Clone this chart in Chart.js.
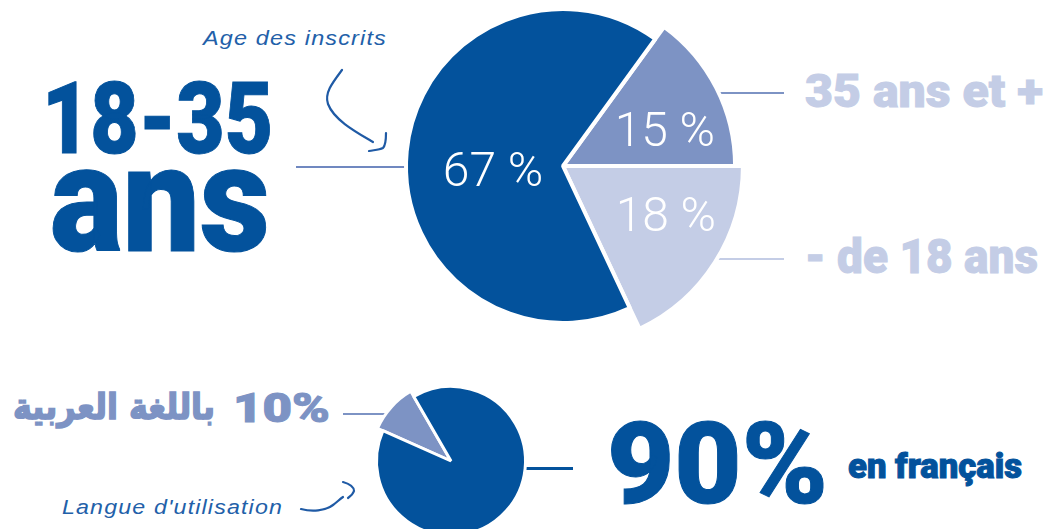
<!DOCTYPE html>
<html lang="fr">
<head>
<meta charset="utf-8">
<title>Inscrits : âge et langue</title>
<script src="https://cdn.jsdelivr.net/npm/chart.js@4.4.1/dist/chart.umd.min.js"></script>
<style>
  html, body { margin: 0; padding: 0; background: #fff; }
  body { position: relative; width: 1046px; height: 529px; overflow: hidden; font-family: Roboto, "DejaVu Sans", sans-serif; }
  .txt { position: absolute; white-space: nowrap; line-height: 1; transform-origin: 0 0; }
  .big { font-weight: 900; -webkit-text-stroke: 1px currentColor; }
  .hand { font-family: "Liberation Sans", sans-serif; font-style: italic; font-size: 20px; color: #2260a9; letter-spacing: 1px; }
  .rule { position: absolute; z-index: 0; }
  canvas { position: absolute; z-index: 1; }
  svg { position: absolute; left: 0; top: 0; z-index: 2; }
</style>
</head>
<body>

<!-- connector rules, drawn under the pies -->
<div class="rule" style="left:296px; top:166px; width:120px; height:2px; background:#7088c0"></div>
<div class="rule" style="left:700px; top:92px;  width:84px;  height:2px; background:#7d93c4"></div>
<div class="rule" style="left:700px; top:258px; width:84px;  height:2px; background:#c4cde6"></div>
<div class="rule" style="left:343px; top:413px; width:50px;  height:2px; background:#7d93c4"></div>
<div class="rule" style="left:500px; top:467px; width:73px;  height:3px; background:#03529c"></div>

<canvas id="agePie" width="420" height="420" style="left:353px; top:-44px"></canvas>
<canvas id="langPie" width="200" height="200" style="left:351px; top:361px"></canvas>

<div id="ageMainNum" class="txt big" data-w="231" style="left:42px; top:69px; font-size:100px; color:#03529c"></div>
<div id="ageMainUnit" class="txt big" data-w="220" style="left:50px; top:124px; font-size:151px; color:#03529c"></div>
<div id="ageOld" class="txt big" data-w="238" style="left:805px; top:67px; font-size:47px; color:#c4cde6"></div>
<div id="ageYoung" class="txt big" data-w="233" style="left:805px; top:232px; font-size:49px; color:#c4cde6"></div>

<div id="langArPct" class="txt big" data-w="97" style="left:233px; top:388px; font-size:41px; color:#7d93c4"></div>
<div id="langArName" class="txt" data-w="202" style="left:13px; top:389px; font-family:'DejaVu Sans'; font-weight:700; font-size:36px; color:#7d93c4; -webkit-text-stroke:1.6px #7d93c4" dir="rtl"></div>
<div id="langFrPct" class="txt big" data-w="221" style="left:607px; top:407px; font-size:114px; color:#03529c"></div>
<div id="langFrName" class="txt big" data-w="174" style="left:848px; top:449px; font-size:35px; color:#03529c"></div>

<div class="txt hand" data-w="184" style="left:203px; top:28px">Age des inscrits</div>
<div class="txt hand" data-w="221" style="left:62px; top:497px">Langue d'utilisation</div>

<!-- hand-drawn pointers -->
<svg width="1046" height="529" fill="none" stroke="#1f5aa5" stroke-width="2.2" stroke-linecap="round" stroke-linejoin="round">
  <path d="M342,70 C333,82 324,93 328,104 C334,120 356,132 373,142"/>
  <path d="M386,133 C386,140 385,146 383,148 C379,150 374,150 369,151"/>
  <path d="M301,509 C312,512 325,511 333,505 C337,502 340,499 343,497"/>
  <path d="M343,482 C350,484 354,487 354,491 C353,494 351,496 348,498"/>
</svg>

<script>
// age of registered users
const ageLabels = ['35 ans et +', '- de 18 ans', '18-35 ans'];
const ageValues = [15, 18, 67];

// language used
const langLabels = ['باللغة العربية', 'en français'];
const langValues = [10, 90];

const DARK = '#03529c';
const MID = '#7d93c4';
const LIGHT = '#c4cde6';

// pie whose slices can stick out further than the others
class ExplodedPieController extends Chart.PieController {
  updateElement(element, index, properties, mode) {
    const grow = this.getDataset().grow;
    if (grow && properties && properties.outerRadius !== undefined && index !== undefined) {
      properties.outerRadius *= grow[index] || 1;
    }
    super.updateElement(element, index, properties, mode);
  }
}
ExplodedPieController.id = 'explodedPie';
Chart.register(ExplodedPieController);

// white value labels inside the slices
const sliceLabels = {
  id: 'sliceLabels',
  afterDatasetsDraw(chart, args, opts) {
    if (!opts.place) return;
    const ctx = chart.ctx;
    const meta = chart.getDatasetMeta(0);
    const values = chart.data.datasets[0].data;
    ctx.save();
    ctx.fillStyle = '#fff';
    ctx.font = `300 ${opts.size}px Roboto, sans-serif`;
    ctx.textAlign = 'center';
    ctx.textBaseline = 'alphabetic';
    meta.data.forEach((arc, i) => {
      const p = opts.place[i];
      if (!p) return;
      const { x, y, startAngle, endAngle, outerRadius } =
        arc.getProps(['x', 'y', 'startAngle', 'endAngle', 'outerRadius'], true);
      const a = startAngle + p.t * (endAngle - startAngle);
      const r = p.r * outerRadius;
      ctx.fillText(values[i] + ' %', x + Math.cos(a) * r, y + Math.sin(a) * r + opts.size * 0.355);
    });
    ctx.restore();
  }
};

const common = {
  responsive: false,
  animation: false,
  events: [],
  layout: { padding: 0 },
  plugins: { legend: { display: false }, tooltip: { enabled: false } }
};

new Chart(document.getElementById('agePie'), {
  type: 'explodedPie',
  data: {
    labels: ageLabels,
    datasets: [{
      data: ageValues,
      backgroundColor: [MID, LIGHT, DARK],
      borderColor: '#fff',
      borderWidth: 4,
      grow: [1.096, 1.146, 1]
    }]
  },
  options: {
    ...common,
    radius: 157,
    rotation: 36,
    plugins: {
      ...common.plugins,
      sliceLabels: {
        size: 48,
        place: [{ t: 0.63, r: 0.63 }, { t: 0.383, r: 0.63 }, { t: 0.467, r: 0.446 }]
      }
    }
  },
  plugins: [sliceLabels]
});

new Chart(document.getElementById('langPie'), {
  type: 'explodedPie',
  data: {
    labels: langLabels,
    datasets: [{
      data: langValues,
      backgroundColor: [MID, DARK],
      borderColor: '#fff',
      borderWidth: 3,
      grow: [1.08, 1]
    }]
  },
  options: {
    ...common,
    radius: 74.5,
    rotation: 294
  }
});

// headline texts
const [mainNum, mainUnit] = ageLabels[2].split(' ');
document.getElementById('ageMainNum').textContent = mainNum;
document.getElementById('ageMainUnit').textContent = mainUnit;
document.getElementById('ageOld').textContent = ageLabels[0];
document.getElementById('ageYoung').textContent = ageLabels[1];
document.getElementById('langArPct').textContent = langValues[0] + '%';
document.getElementById('langArName').textContent = langLabels[0];
document.getElementById('langFrPct').textContent = langValues[1] + '%';
document.getElementById('langFrName').textContent = langLabels[1];

// squeeze each text block to its width
function fitTexts() {
  document.querySelectorAll('.txt[data-w]').forEach(el => {
    el.style.transform = 'none';
    const w = el.getBoundingClientRect().width;
    if (w > 0) el.style.transform = `scaleX(${el.dataset.w / w})`;
  });
}
fitTexts();
document.fonts.ready.then(fitTexts);
</script>
</body>
</html>
